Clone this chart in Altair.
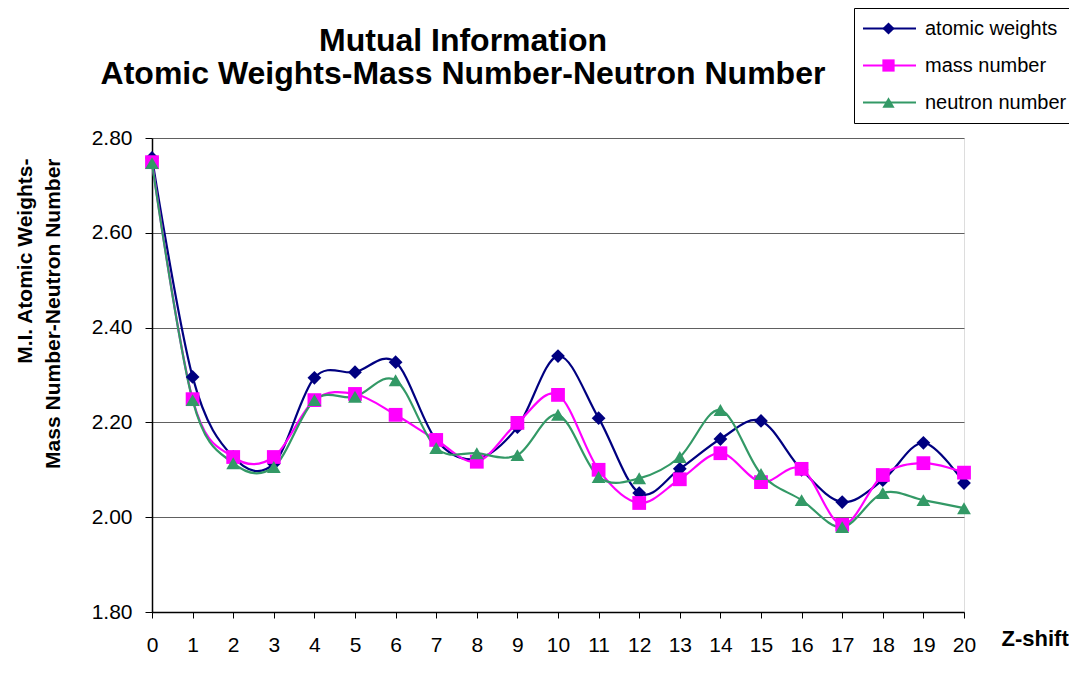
import altair as alt
import pandas as pd

# ---- data ----
z_shift = list(range(21))
atomic_weights = [2.758, 2.296, 2.127, 2.113, 2.294, 2.306, 2.327, 2.163, 2.123, 2.190, 2.340,
                  2.209, 2.051, 2.102, 2.165, 2.203, 2.100, 2.032, 2.078, 2.157, 2.072]
mass_number = [2.749, 2.249, 2.127, 2.127, 2.247, 2.260, 2.216, 2.163, 2.117, 2.199, 2.258,
               2.100, 2.030, 2.080, 2.135, 2.074, 2.102, 1.984, 2.089, 2.114, 2.094]
neutron_number = [2.747, 2.247, 2.114, 2.106, 2.247, 2.254, 2.289, 2.146, 2.135, 2.131, 2.216,
                  2.085, 2.082, 2.127, 2.226, 2.091, 2.036, 1.979, 2.051, 2.036, 2.019]
series_names = ["atomic weights", "mass number", "neutron number"]
series_colors = ["#000080", "#FF00FF", "#339966"]
series_shapes = ["diamond", "square", "triangle-up"]
y_ticks = [1.8, 2.0, 2.2, 2.4, 2.6, 2.8]

rows = []
for name, vals in zip(series_names, [atomic_weights, mass_number, neutron_number]):
    for z, v in zip(z_shift, vals):
        rows.append({"z": z, "value": v, "series": name, "series_pt": name})
df = pd.DataFrame(rows)

FONT = "Liberation Sans"

x_enc = alt.X(
    "z:Q",
    scale=alt.Scale(domain=[0, 20], nice=False, zero=False),
    axis=alt.Axis(
        values=z_shift, format="d", title="Z-shift", grid=False,
        titleX=849, titleY=26, titleAlign="left", titleBaseline="middle", titleAngle=0,
        titleFontSize=22, titleFontWeight="bold", titleFont=FONT, titleColor="black",
        labelFontSize=21, labelFont=FONT, labelColor="black", labelPadding=16,
        tickSize=6, tickColor="black", domainColor="black", domainWidth=1.5, tickWidth=1,
        labelFlush=False, labelOverlap=False,
    ),
)
y_enc = alt.Y(
    "value:Q",
    scale=alt.Scale(domain=[1.8, 2.8], nice=False, zero=False),
    axis=alt.Axis(
        values=y_ticks, format=".2f",
        title=["M.I. Atomic Weights-", "Mass Number-Neutron Number"],
        titleAngle=270, titleAlign="right", titleBaseline="middle",
        titleX=-127, titleY=20, titleLineHeight=28,
        titleFontSize=21, titleFontWeight="bold", titleFont=FONT, titleColor="black",
        labelFontSize=21, labelFont=FONT, labelColor="black", labelPadding=13,
        tickSize=7, tickColor="black", domainColor="black", domainWidth=1.5, tickWidth=1,
        grid=True, gridColor="#606060", gridWidth=1.2,
        labelFlush=False, labelOverlap=False,
    ),
)

lines = alt.Chart(df).mark_line(interpolate="cardinal", strokeWidth=2.2).encode(
    x=x_enc,
    y=y_enc,
    stroke=alt.Stroke(
        "series:N",
        scale=alt.Scale(domain=series_names, range=series_colors),
        legend=alt.Legend(
            orient="none", legendX=702, legendY=-130, title=None,
            symbolType="stroke", symbolSize=2809, symbolStrokeWidth=2,
            labelFont=FONT, labelFontSize=20, labelColor="black", labelOffset=8,
            strokeColor="black", padding=2, symbolOffset=6, clipHeight=37,
            rowPadding=0, direction="vertical", labelLimit=400,
        ),
    ),
)

legend_b = dict(
    orient="none", legendX=728, legendY=-130, title=None,
    symbolSize=150, symbolStrokeWidth=0, symbolOpacity=1,
    labelExpr="''", labelFontSize=1, labelOpacity=0, labelOffset=0,
    padding=2, symbolOffset=0, clipHeight=37, rowPadding=0, direction="vertical",
)

points = alt.Chart(df).mark_point(filled=True, size=190, opacity=1, strokeWidth=0).encode(
    x=x_enc,
    y=y_enc,
    fill=alt.Fill("series_pt:N", scale=alt.Scale(range=series_colors),
                  legend=alt.Legend(**legend_b)),
    shape=alt.Shape("series_pt:N", scale=alt.Scale(range=series_shapes),
                    legend=alt.Legend(**legend_b)),
)

chart = alt.layer(lines, points).properties(
    width=812,
    height=474,
    autosize=alt.AutoSizeParams(type="none"),
    padding={"left": 144, "top": 130, "right": 105, "bottom": 78},
    title=alt.TitleParams(
        text=["Mutual Information", "Atomic Weights-Mass Number-Neutron Number"],
        anchor="middle", frame="group", dx=-95, offset=0, dy=115, baseline="bottom",
        font=FONT, fontSize=32, fontWeight="bold", lineHeight=33, color="black",
    ),
).configure_view(stroke="#808080", strokeWidth=1.2).configure(background="white")

chart.save("out.html", embed_options={"renderer": "svg", "actions": False})
